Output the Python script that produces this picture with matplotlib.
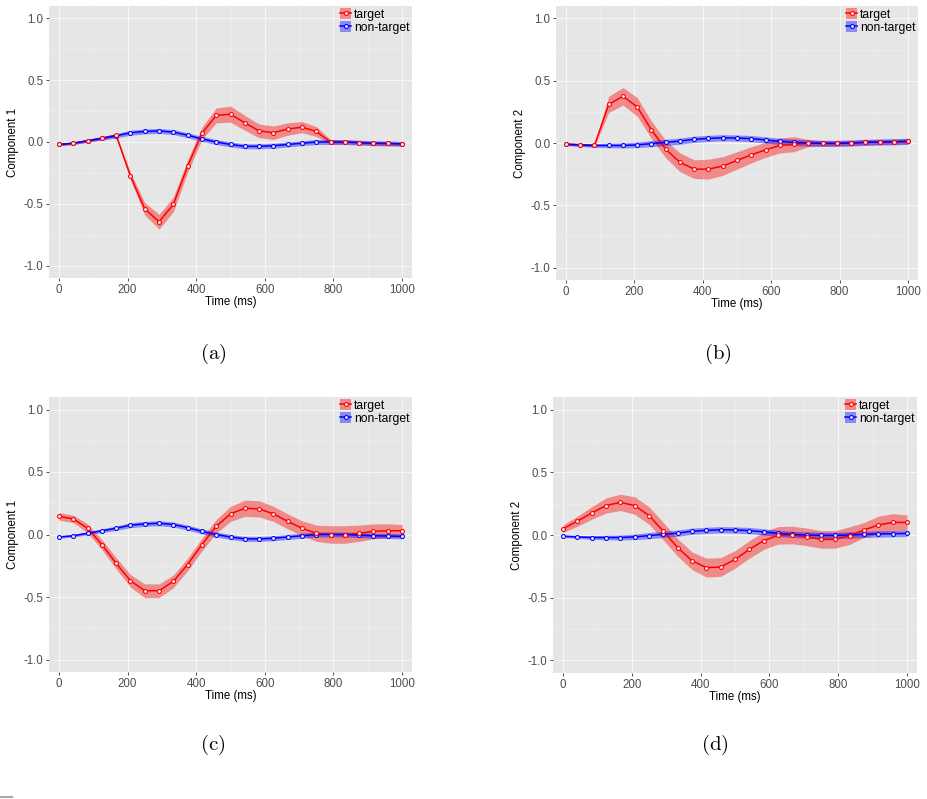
import matplotlib
matplotlib.use("Agg")
import matplotlib.pyplot as plt
from matplotlib.lines import Line2D
from matplotlib.patches import Patch
from matplotlib.ticker import MultipleLocator

plt.rcParams['font.family'] = ['Liberation Sans', 'DejaVu Sans']
plt.rcParams['mathtext.fontset'] = 'cm'

# time axis: 25 samples over 0..1000 ms
time_ms = [0, 41.7, 83.3, 125, 166.7, 208.3, 250, 291.7, 333.3, 375, 416.7, 458.3, 500,
           541.7, 583.3, 625, 666.7, 708.3, 750, 791.7, 833.3, 875, 916.7, 958.3, 1000]

# (a) component 1
a_target = [-0.02, -0.01, 0.01, 0.03, 0.055, -0.275, -0.54, -0.645, -0.505, -0.195, 0.07, 0.215, 0.225,
            0.155, 0.09, 0.075, 0.105, 0.12, 0.085, 0.0, 0.0, -0.005, -0.01, -0.012, -0.017]
a_target_se = [0.01, 0.01, 0.01, 0.01, 0.01, 0.03, 0.05, 0.06, 0.06, 0.05, 0.05, 0.06, 0.065,
               0.06, 0.055, 0.055, 0.05, 0.045, 0.04, 0.02, 0.015, 0.015, 0.015, 0.015, 0.015]
comp1_nontarget = [-0.02, -0.01, 0.01, 0.03, 0.05, 0.075, 0.085, 0.09, 0.08, 0.055, 0.025, 0.0, -0.02,
                   -0.035, -0.035, -0.03, -0.02, -0.01, 0.0, 0.0, 0.0, -0.005, -0.01, -0.012, -0.015]
comp1_nontarget_se = [0.01, 0.01, 0.012, 0.015, 0.018, 0.02, 0.02, 0.02, 0.02, 0.02, 0.02, 0.02, 0.02,
                      0.02, 0.02, 0.02, 0.02, 0.02, 0.02, 0.02, 0.02, 0.02, 0.02, 0.02, 0.02]

# (b) component 2
b_target = [-0.01, -0.015, -0.02, 0.31, 0.375, 0.29, 0.105, -0.05, -0.155, -0.21, -0.21, -0.185, -0.14,
            -0.095, -0.055, -0.02, -0.01, 0.0, -0.003, -0.003, 0.0, 0.005, 0.008, 0.01, 0.013]
b_target_se = [0.01, 0.01, 0.01, 0.065, 0.07, 0.075, 0.07, 0.07, 0.075, 0.075, 0.08, 0.075, 0.07,
               0.065, 0.06, 0.06, 0.06, 0.03, 0.02, 0.02, 0.02, 0.02, 0.02, 0.02, 0.02]
comp2_nontarget = [-0.01, -0.015, -0.02, -0.02, -0.02, -0.015, -0.005, 0.005, 0.015, 0.03, 0.037, 0.042, 0.04,
                   0.035, 0.025, 0.013, 0.005, 0.0, -0.003, -0.003, 0.0, 0.005, 0.008, 0.01, 0.013]
comp2_nontarget_se = [0.01, 0.012, 0.015, 0.018, 0.02, 0.022, 0.025, 0.025, 0.025, 0.025, 0.025, 0.025, 0.025,
                      0.025, 0.025, 0.025, 0.025, 0.025, 0.025, 0.025, 0.025, 0.025, 0.025, 0.025, 0.025]

# (c) component 1
c_target = [0.145, 0.125, 0.05, -0.08, -0.23, -0.37, -0.45, -0.45, -0.375, -0.24, -0.08, 0.065, 0.165,
            0.21, 0.205, 0.165, 0.105, 0.05, 0.01, 0.0, 0.0, 0.01, 0.025, 0.03, 0.03]
c_target_se = [0.03, 0.03, 0.035, 0.04, 0.045, 0.05, 0.055, 0.055, 0.05, 0.05, 0.05, 0.055, 0.06,
               0.065, 0.065, 0.06, 0.06, 0.06, 0.065, 0.07, 0.07, 0.065, 0.06, 0.055, 0.05]

# (d) component 2
d_target = [0.05, 0.11, 0.175, 0.235, 0.26, 0.235, 0.155, 0.03, -0.1, -0.205, -0.26, -0.255, -0.195,
            -0.115, -0.045, -0.003, 0.0, -0.015, -0.035, -0.035, -0.005, 0.04, 0.08, 0.1, 0.1]
d_target_se = [0.03, 0.04, 0.05, 0.06, 0.065, 0.07, 0.07, 0.07, 0.07, 0.07, 0.075, 0.075, 0.07,
               0.07, 0.07, 0.07, 0.07, 0.07, 0.07, 0.07, 0.07, 0.06, 0.07, 0.07, 0.06]

panels = [
    ('(a)', 'Component 1', a_target, a_target_se, comp1_nontarget, comp1_nontarget_se),
    ('(b)', 'Component 2', b_target, b_target_se, comp2_nontarget, comp2_nontarget_se),
    ('(c)', 'Component 1', c_target, c_target_se, comp1_nontarget, comp1_nontarget_se),
    ('(d)', 'Component 2', d_target, d_target_se, comp2_nontarget, comp2_nontarget_se),
]

W, H = 927, 799
# axes boxes in pixels: left, top, right, bottom
boxes = [(49, 6, 412, 278), (556, 6, 918, 280), (49, 397, 412, 672), (553, 397, 917, 673)]
label_pos = [(213, 354), (718, 354), (213, 745), (715, 745)]

fig = plt.figure(figsize=(W / 100, H / 100), dpi=100)

RED = '#FF0000'
BLUE = '#0000FF'
GRAY = '#E6E6E6'
MS = 2.8
LW = 1.1


def band(vals, se, sign):
    return [v + sign * s for v, s in zip(vals, se)]


for (lab, ylab, tgt, tgt_se, nt, nt_se), (l, t, r, b), (lx, ly) in zip(panels, boxes, label_pos):
    ax = fig.add_axes([l / W, 1 - b / H, (r - l) / W, (b - t) / H])
    ax.set_facecolor(GRAY)
    for s in ax.spines.values():
        s.set_visible(False)

    ax.fill_between(time_ms, band(tgt, tgt_se, -1), band(tgt, tgt_se, 1),
                    color=RED, alpha=0.4, lw=0, zorder=2)
    ax.fill_between(time_ms, band(nt, nt_se, -1), band(nt, nt_se, 1),
                    color=BLUE, alpha=0.4, lw=0, zorder=2)
    ax.plot(time_ms, tgt, color=RED, lw=LW, zorder=3)
    ax.plot(time_ms, nt, color=BLUE, lw=LW, zorder=3)
    ax.plot(time_ms, nt, ls='none', marker='o', ms=MS, mfc='white', mec=BLUE, mew=0.8, zorder=4)
    ax.plot(time_ms, tgt, ls='none', marker='o', ms=MS, mfc='white', mec=RED, mew=0.8, zorder=5)

    ax.set_xlim(-29, 1029)
    ax.set_ylim(-1.1, 1.1)
    ax.xaxis.set_major_locator(MultipleLocator(200))
    ax.xaxis.set_minor_locator(MultipleLocator(100))
    ax.yaxis.set_major_locator(MultipleLocator(0.5))
    ax.yaxis.set_minor_locator(MultipleLocator(0.25))
    ax.set_yticks([-1.0, -0.5, 0.0, 0.5, 1.0])
    ax.set_yticklabels(['-1.0', '-0.5', '0.0', '0.5', '1.0'])
    ax.grid(which='major', color='#F7F7F7', lw=0.7, zorder=0)
    ax.grid(which='minor', color='#EFEFEF', lw=0.5, zorder=0)
    ax.set_axisbelow(True)
    ax.tick_params(which='major', length=2.5, width=0.6, color='#333333',
                   labelsize=8.3, labelcolor='#4D4D4D', pad=1.5)
    ax.tick_params(which='minor', length=0)
    ax.set_xlabel('Time (ms)', fontsize=8.3, labelpad=0)
    ax.set_ylabel(ylab, fontsize=8.3, labelpad=3)

    handles = [
        (Patch(facecolor=RED, alpha=0.4, lw=0),
         Line2D([], [], color=RED, lw=LW, marker='o', ms=MS, mfc='white', mec=RED, mew=0.8)),
        (Patch(facecolor=BLUE, alpha=0.4, lw=0),
         Line2D([], [], color=BLUE, lw=LW, marker='o', ms=MS, mfc='white', mec=BLUE, mew=0.8)),
    ]
    ax.legend(handles, ['target', 'non-target'], loc='upper right', frameon=False,
              fontsize=8.7, handlelength=0.9, handleheight=1.0, handletextpad=0.25,
              labelspacing=0.0, borderaxespad=0.1, borderpad=0.1)

    fig.text(lx / W, 1 - ly / H, r'$\mathrm{' + lab + '}$', fontsize=15,
             ha='center', va='center')

# small footnote rule at the bottom-left
fig.add_artist(Line2D([0, 12 / W], [1 - 797 / H, 1 - 797 / H], color='#AAAAAA', lw=1.5))

fig.savefig('out.png', dpi=100)
